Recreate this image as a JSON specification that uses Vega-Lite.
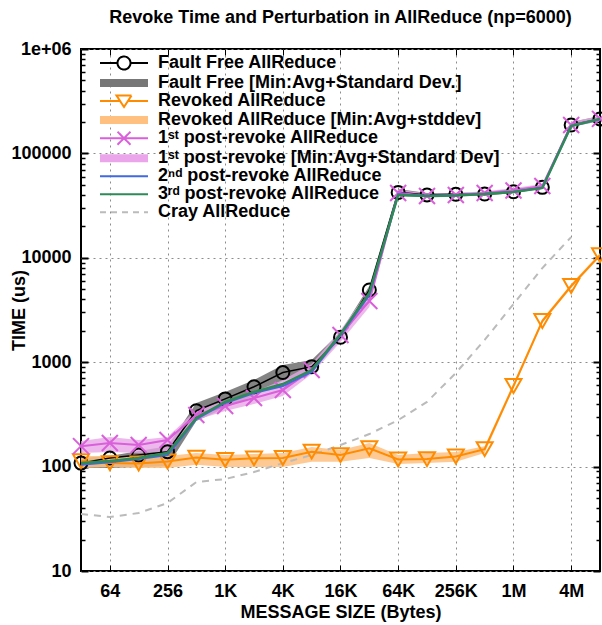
{
  "$schema": "https://vega.github.io/schema/vega-lite/v6.json",
  "width": 519,
  "height": 522,
  "autosize": "none",
  "padding": {"left": 81, "top": 49, "right": 2, "bottom": 54},
  "background": "white",
  "config": {"view": {"stroke": "#000000", "strokeWidth": 2}, "font": "Liberation Sans"},
  "title": {"text": "Revoke Time and Perturbation in AllReduce (np=6000)", "font": "Liberation Sans", "fontSize": 18, "fontWeight": "bold", "color": "#000000", "anchor": "middle", "offset": 13},
  "datasets": {
    "lines": [
      {"s": "ff", "x": 32, "y": 108}, {"s": "ff", "x": 64, "y": 121}, {"s": "ff", "x": 128, "y": 129}, {"s": "ff", "x": 256, "y": 139}, {"s": "ff", "x": 512, "y": 343}, {"s": "ff", "x": 1024, "y": 445}, {"s": "ff", "x": 2048, "y": 582}, {"s": "ff", "x": 4096, "y": 796}, {"s": "ff", "x": 8192, "y": 906}, {"s": "ff", "x": 16384, "y": 1734}, {"s": "ff", "x": 32768, "y": 4920}, {"s": "ff", "x": 65536, "y": 42300}, {"s": "ff", "x": 131072, "y": 40000}, {"s": "ff", "x": 262144, "y": 40600}, {"s": "ff", "x": 524288, "y": 40800}, {"s": "ff", "x": 1048576, "y": 42900}, {"s": "ff", "x": 2097152, "y": 47300}, {"s": "ff", "x": 4194304, "y": 187000}, {"s": "ff", "x": 8388608, "y": 214000},
      {"s": "rv", "x": 32, "y": 113}, {"s": "rv", "x": 64, "y": 108}, {"s": "rv", "x": 128, "y": 107}, {"s": "rv", "x": 256, "y": 112}, {"s": "rv", "x": 512, "y": 122}, {"s": "rv", "x": 1024, "y": 116}, {"s": "rv", "x": 2048, "y": 120}, {"s": "rv", "x": 4096, "y": 121}, {"s": "rv", "x": 8192, "y": 139}, {"s": "rv", "x": 16384, "y": 129}, {"s": "rv", "x": 32768, "y": 150}, {"s": "rv", "x": 65536, "y": 117}, {"s": "rv", "x": 131072, "y": 118}, {"s": "rv", "x": 262144, "y": 125}, {"s": "rv", "x": 524288, "y": 147}, {"s": "rv", "x": 1048576, "y": 592}, {"s": "rv", "x": 2097152, "y": 2480}, {"s": "rv", "x": 4194304, "y": 5370}, {"s": "rv", "x": 8388608, "y": 10600},
      {"s": "p1", "x": 32, "y": 157}, {"s": "p1", "x": 64, "y": 168}, {"s": "p1", "x": 128, "y": 161}, {"s": "p1", "x": 256, "y": 180}, {"s": "p1", "x": 512, "y": 312}, {"s": "p1", "x": 1024, "y": 380}, {"s": "p1", "x": 2048, "y": 454}, {"s": "p1", "x": 4096, "y": 542}, {"s": "p1", "x": 8192, "y": 841}, {"s": "p1", "x": 16384, "y": 1820}, {"s": "p1", "x": 32768, "y": 3850}, {"s": "p1", "x": 65536, "y": 41800}, {"s": "p1", "x": 131072, "y": 39100}, {"s": "p1", "x": 262144, "y": 40000}, {"s": "p1", "x": 524288, "y": 41800}, {"s": "p1", "x": 1048576, "y": 44100}, {"s": "p1", "x": 2097152, "y": 48800}, {"s": "p1", "x": 4194304, "y": 187000}, {"s": "p1", "x": 8388608, "y": 214000},
      {"s": "p2", "x": 32, "y": 104}, {"s": "p2", "x": 64, "y": 110}, {"s": "p2", "x": 128, "y": 118}, {"s": "p2", "x": 256, "y": 129}, {"s": "p2", "x": 512, "y": 285}, {"s": "p2", "x": 1024, "y": 407}, {"s": "p2", "x": 2048, "y": 507}, {"s": "p2", "x": 4096, "y": 591}, {"s": "p2", "x": 8192, "y": 806}, {"s": "p2", "x": 16384, "y": 1820}, {"s": "p2", "x": 32768, "y": 4400}, {"s": "p2", "x": 65536, "y": 40500}, {"s": "p2", "x": 131072, "y": 39300}, {"s": "p2", "x": 262144, "y": 39800}, {"s": "p2", "x": 524288, "y": 41000}, {"s": "p2", "x": 1048576, "y": 43000}, {"s": "p2", "x": 2097152, "y": 47000}, {"s": "p2", "x": 4194304, "y": 184000}, {"s": "p2", "x": 8388608, "y": 212000},
      {"s": "p3", "x": 32, "y": 108}, {"s": "p3", "x": 64, "y": 113}, {"s": "p3", "x": 128, "y": 121}, {"s": "p3", "x": 256, "y": 135}, {"s": "p3", "x": 512, "y": 292}, {"s": "p3", "x": 1024, "y": 416}, {"s": "p3", "x": 2048, "y": 519}, {"s": "p3", "x": 4096, "y": 618}, {"s": "p3", "x": 8192, "y": 841}, {"s": "p3", "x": 16384, "y": 1862}, {"s": "p3", "x": 32768, "y": 4600}, {"s": "p3", "x": 65536, "y": 40000}, {"s": "p3", "x": 131072, "y": 39100}, {"s": "p3", "x": 262144, "y": 39600}, {"s": "p3", "x": 524288, "y": 40800}, {"s": "p3", "x": 1048576, "y": 42700}, {"s": "p3", "x": 2097152, "y": 46700}, {"s": "p3", "x": 4194304, "y": 183000}, {"s": "p3", "x": 8388608, "y": 214000},
      {"s": "cray", "x": 32, "y": 35.2}, {"s": "cray", "x": 64, "y": 32.9}, {"s": "cray", "x": 128, "y": 35.9}, {"s": "cray", "x": 256, "y": 44.8}, {"s": "cray", "x": 512, "y": 71.1}, {"s": "cray", "x": 1024, "y": 76}, {"s": "cray", "x": 2048, "y": 88.7}, {"s": "cray", "x": 4096, "y": 108}, {"s": "cray", "x": 8192, "y": 129}, {"s": "cray", "x": 16384, "y": 161}, {"s": "cray", "x": 32768, "y": 205}, {"s": "cray", "x": 65536, "y": 279}, {"s": "cray", "x": 131072, "y": 416}, {"s": "cray", "x": 262144, "y": 789}, {"s": "cray", "x": 524288, "y": 1633}, {"s": "cray", "x": 1048576, "y": 3610}, {"s": "cray", "x": 2097152, "y": 7980}, {"s": "cray", "x": 4194304, "y": 15800}
    ],
    "bands": [
      {"s": "ffb", "x": 32, "lo": 97, "hi": 121}, {"s": "ffb", "x": 64, "lo": 97, "hi": 126}, {"s": "ffb", "x": 128, "lo": 99, "hi": 141}, {"s": "ffb", "x": 256, "lo": 101, "hi": 157}, {"s": "ffb", "x": 512, "lo": 273, "hi": 406}, {"s": "ffb", "x": 1024, "lo": 364, "hi": 519}, {"s": "ffb", "x": 2048, "lo": 474, "hi": 675}, {"s": "ffb", "x": 4096, "lo": 661, "hi": 940}, {"s": "ffb", "x": 8192, "lo": 805, "hi": 1050}, {"s": "ffb", "x": 16384, "lo": 1633, "hi": 1945}, {"s": "ffb", "x": 32768, "lo": 4220, "hi": 5370}, {"s": "ffb", "x": 65536, "lo": 39100, "hi": 45600}, {"s": "ffb", "x": 131072, "lo": 38200, "hi": 41800}, {"s": "ffb", "x": 262144, "lo": 39100, "hi": 41800}, {"s": "ffb", "x": 524288, "lo": 39100, "hi": 42700}, {"s": "ffb", "x": 1048576, "lo": 41800, "hi": 45600}, {"s": "ffb", "x": 2097152, "lo": 45600, "hi": 49800}, {"s": "ffb", "x": 4194304, "lo": 179000, "hi": 200000}, {"s": "ffb", "x": 8388608, "lo": 204000, "hi": 228000},
      {"s": "rvb", "x": 32, "lo": 97, "hi": 126}, {"s": "rvb", "x": 64, "lo": 99, "hi": 126}, {"s": "rvb", "x": 128, "lo": 97, "hi": 124}, {"s": "rvb", "x": 256, "lo": 97, "hi": 126}, {"s": "rvb", "x": 512, "lo": 104, "hi": 135}, {"s": "rvb", "x": 1024, "lo": 99, "hi": 129}, {"s": "rvb", "x": 2048, "lo": 99, "hi": 132}, {"s": "rvb", "x": 4096, "lo": 99, "hi": 135}, {"s": "rvb", "x": 8192, "lo": 111, "hi": 154}, {"s": "rvb", "x": 16384, "lo": 111, "hi": 144}, {"s": "rvb", "x": 32768, "lo": 121, "hi": 168}, {"s": "rvb", "x": 65536, "lo": 106, "hi": 129}, {"s": "rvb", "x": 131072, "lo": 108, "hi": 135}, {"s": "rvb", "x": 262144, "lo": 111, "hi": 138}, {"s": "rvb", "x": 524288, "lo": 135, "hi": 157}, {"s": "rvb", "x": 1048576, "lo": 566, "hi": 632}, {"s": "rvb", "x": 2097152, "lo": 2370, "hi": 2590}, {"s": "rvb", "x": 4194304, "lo": 5140, "hi": 5610}, {"s": "rvb", "x": 8388608, "lo": 10200, "hi": 11100},
      {"s": "p1b", "x": 32, "lo": 135, "hi": 176}, {"s": "p1b", "x": 64, "lo": 138, "hi": 192}, {"s": "p1b", "x": 128, "lo": 135, "hi": 180}, {"s": "p1b", "x": 256, "lo": 138, "hi": 192}, {"s": "p1b", "x": 512, "lo": 279, "hi": 348}, {"s": "p1b", "x": 1024, "lo": 341, "hi": 425}, {"s": "p1b", "x": 2048, "lo": 398, "hi": 519}, {"s": "p1b", "x": 4096, "lo": 474, "hi": 675}, {"s": "p1b", "x": 8192, "lo": 771, "hi": 961}, {"s": "p1b", "x": 16384, "lo": 1560, "hi": 2030}, {"s": "p1b", "x": 32768, "lo": 3380, "hi": 4920}, {"s": "p1b", "x": 65536, "lo": 40000, "hi": 45000}, {"s": "p1b", "x": 131072, "lo": 37800, "hi": 41000}, {"s": "p1b", "x": 262144, "lo": 38500, "hi": 41800}, {"s": "p1b", "x": 524288, "lo": 40000, "hi": 43500}, {"s": "p1b", "x": 1048576, "lo": 42700, "hi": 46500}, {"s": "p1b", "x": 2097152, "lo": 46500, "hi": 51000}, {"s": "p1b", "x": 4194304, "lo": 179000, "hi": 200000}, {"s": "p1b", "x": 8388608, "lo": 204000, "hi": 228000}
    ]
  },
  "resolve": {"axis": {"x": "independent", "y": "independent"}},
  "layer": [
    {
      "data": {"name": "bands"},
      "transform": [{"filter": "datum.s == 'ffb'"}],
      "mark": {"type": "area", "color": "#777777", "opacity": 0.9},
      "encoding": {
        "x": {"field": "x", "type": "quantitative", "scale": {"type": "log", "domain": [32, 8388608], "nice": false},
          "axis": {"orient": "bottom", "values": [64, 256, 1024, 4096, 16384, 65536, 262144, 1048576, 4194304],
            "labelExpr": "datum.value >= 1048576 ? (datum.value / 1048576) + 'M' : datum.value >= 1024 ? (datum.value / 1024) + 'K' : '' + datum.value",
            "title": "MESSAGE SIZE (Bytes)", "titleFont": "Liberation Sans", "titleFontSize": 18, "titleFontWeight": "bold", "titleColor": "#000000", "titlePadding": 3,
            "labelFont": "Liberation Sans", "labelFontSize": 18, "labelFontWeight": "bold", "labelColor": "#000000", "labelPadding": 17, "labelFlush": false, "labelOverlap": false,
            "tickSize": -6, "tickColor": "#000000", "tickWidth": 1, "domain": false,
            "grid": true, "gridColor": "#8c8c8c", "gridDash": [2, 4], "gridWidth": 1}},
        "y": {"field": "lo", "type": "quantitative", "scale": {"type": "log", "domain": [10, 1000000], "nice": false},
          "axis": {"orient": "left", "values": [10, 100, 1000, 10000, 100000, 1000000],
            "labelExpr": "datum.value == 1000000 ? '1e+06' : '' + datum.value",
            "title": "TIME (us)", "titleFont": "Liberation Sans", "titleFontSize": 18, "titleFontWeight": "bold", "titleColor": "#000000", "titleX": -53, "titleY": 261, "titleAngle": -90, "titleAlign": "center", "titleBaseline": "bottom",
            "labelFont": "Liberation Sans", "labelFontSize": 18, "labelFontWeight": "bold", "labelColor": "#000000", "labelPadding": 17, "labelFlush": false, "labelOverlap": false,
            "tickSize": -7, "tickColor": "#000000", "tickWidth": 2, "domain": false,
            "grid": true, "gridColor": "#8c8c8c", "gridDash": [2, 4], "gridWidth": 1}},
        "y2": {"field": "hi"}
      }
    },
    {
      "data": {"name": "bands"},
      "transform": [{"filter": "datum.s == 'rvb'"}],
      "mark": {"type": "area", "color": "#ffc080", "opacity": 0.85},
      "encoding": {
        "x": {"field": "x", "type": "quantitative", "scale": {"type": "log", "domain": [32, 8388608], "nice": false},
          "axis": {"orient": "top", "values": [64, 256, 1024, 4096, 16384, 65536, 262144, 1048576, 4194304], "labels": false, "title": null, "domain": false, "grid": false, "tickSize": -6, "tickColor": "#000000", "tickWidth": 1}},
        "y": {"field": "lo", "type": "quantitative", "scale": {"type": "log", "domain": [10, 1000000], "nice": false},
          "axis": {"orient": "right", "values": [10, 100, 1000, 10000, 100000, 1000000], "labels": false, "title": null, "domain": false, "grid": false, "tickSize": -7, "tickColor": "#000000", "tickWidth": 2}},
        "y2": {"field": "hi"}
      }
    },
    {
      "data": {"name": "bands"},
      "transform": [{"filter": "datum.s == 'p1b'"}],
      "mark": {"type": "area", "color": "#e8a8e8", "opacity": 0.8},
      "encoding": {
        "x": {"field": "x", "type": "quantitative", "scale": {"type": "log", "domain": [32, 8388608], "nice": false}, "axis": null},
        "y": {"field": "lo", "type": "quantitative", "scale": {"type": "log", "domain": [10, 1000000], "nice": false},
          "axis": {"orient": "left", "values": [20, 30, 40, 50, 60, 70, 80, 90, 200, 300, 400, 500, 600, 700, 800, 900, 2000, 3000, 4000, 5000, 6000, 7000, 8000, 9000, 20000, 30000, 40000, 50000, 60000, 70000, 80000, 90000, 200000, 300000, 400000, 500000, 600000, 700000, 800000, 900000], "labels": false, "title": null, "domain": false, "grid": false, "tickSize": -4, "tickColor": "#000000", "tickWidth": 1.5}},
        "y2": {"field": "hi"}
      }
    },
    {
      "data": {"name": "lines"},
      "transform": [{"filter": "datum.s == 'cray'"}],
      "mark": {"type": "line", "color": "#bbbbbb", "strokeWidth": 2, "strokeDash": [7, 6]},
      "encoding": {
        "x": {"field": "x", "type": "quantitative", "scale": {"type": "log", "domain": [32, 8388608], "nice": false}, "axis": null},
        "y": {"field": "y", "type": "quantitative", "scale": {"type": "log", "domain": [10, 1000000], "nice": false},
          "axis": {"orient": "right", "values": [20, 30, 40, 50, 60, 70, 80, 90, 200, 300, 400, 500, 600, 700, 800, 900, 2000, 3000, 4000, 5000, 6000, 7000, 8000, 9000, 20000, 30000, 40000, 50000, 60000, 70000, 80000, 90000, 200000, 300000, 400000, 500000, 600000, 700000, 800000, 900000], "labels": false, "title": null, "domain": false, "grid": false, "tickSize": -4, "tickColor": "#000000", "tickWidth": 1.5}}
      }
    },
    {
      "data": {"name": "lines"},
      "transform": [{"filter": "datum.s == 'ff'"}],
      "mark": {"type": "line", "color": "#000000", "strokeWidth": 1.5},
      "encoding": {
        "x": {"field": "x", "type": "quantitative", "scale": {"type": "log", "domain": [32, 8388608], "nice": false}, "axis": null},
        "y": {"field": "y", "type": "quantitative", "scale": {"type": "log", "domain": [10, 1000000], "nice": false}, "axis": null}
      }
    },
    {
      "data": {"name": "lines"},
      "transform": [{"filter": "datum.s == 'ff'"}],
      "mark": {"type": "point", "color": "#000000", "shape": "circle", "size": 169, "filled": false, "strokeWidth": 2, "opacity": 1},
      "encoding": {
        "x": {"field": "x", "type": "quantitative", "scale": {"type": "log", "domain": [32, 8388608], "nice": false}, "axis": null},
        "y": {"field": "y", "type": "quantitative", "scale": {"type": "log", "domain": [10, 1000000], "nice": false}, "axis": null}
      }
    },
    {
      "data": {"name": "lines"},
      "transform": [{"filter": "datum.s == 'rv'"}],
      "mark": {"type": "line", "color": "#ff8c00", "strokeWidth": 2},
      "encoding": {
        "x": {"field": "x", "type": "quantitative", "scale": {"type": "log", "domain": [32, 8388608], "nice": false}, "axis": null},
        "y": {"field": "y", "type": "quantitative", "scale": {"type": "log", "domain": [10, 1000000], "nice": false}, "axis": null}
      }
    },
    {
      "data": {"name": "lines"},
      "transform": [{"filter": "datum.s == 'rv'"}],
      "mark": {"type": "point", "color": "#ff8c00", "shape": "triangle-down", "size": 256, "filled": false, "strokeWidth": 2, "opacity": 1},
      "encoding": {
        "x": {"field": "x", "type": "quantitative", "scale": {"type": "log", "domain": [32, 8388608], "nice": false}, "axis": null},
        "y": {"field": "y", "type": "quantitative", "scale": {"type": "log", "domain": [10, 1000000], "nice": false}, "axis": null}
      }
    },
    {
      "data": {"name": "lines"},
      "transform": [{"filter": "datum.s == 'p1'"}],
      "mark": {"type": "line", "color": "#da5fda", "strokeWidth": 2},
      "encoding": {
        "x": {"field": "x", "type": "quantitative", "scale": {"type": "log", "domain": [32, 8388608], "nice": false}, "axis": null},
        "y": {"field": "y", "type": "quantitative", "scale": {"type": "log", "domain": [10, 1000000], "nice": false}, "axis": null}
      }
    },
    {
      "data": {"name": "lines"},
      "transform": [{"filter": "datum.s == 'p1'"}],
      "mark": {"type": "point", "color": "#da5fda", "shape": "M-1,-1L1,1M-1,1L1,-1", "size": 256, "filled": false, "strokeWidth": 2, "opacity": 1},
      "encoding": {
        "x": {"field": "x", "type": "quantitative", "scale": {"type": "log", "domain": [32, 8388608], "nice": false}, "axis": null},
        "y": {"field": "y", "type": "quantitative", "scale": {"type": "log", "domain": [10, 1000000], "nice": false}, "axis": null}
      }
    },
    {
      "data": {"name": "lines"},
      "transform": [{"filter": "datum.s == 'p2'"}],
      "mark": {"type": "line", "color": "#4169e1", "strokeWidth": 2},
      "encoding": {
        "x": {"field": "x", "type": "quantitative", "scale": {"type": "log", "domain": [32, 8388608], "nice": false}, "axis": null},
        "y": {"field": "y", "type": "quantitative", "scale": {"type": "log", "domain": [10, 1000000], "nice": false}, "axis": null}
      }
    },
    {
      "data": {"name": "lines"},
      "transform": [{"filter": "datum.s == 'p3'"}],
      "mark": {"type": "line", "color": "#2e8b57", "strokeWidth": 2.5},
      "encoding": {
        "x": {"field": "x", "type": "quantitative", "scale": {"type": "log", "domain": [32, 8388608], "nice": false}, "axis": null},
        "y": {"field": "y", "type": "quantitative", "scale": {"type": "log", "domain": [10, 1000000], "nice": false}, "axis": null}
      }
    },
    {
      "data": {"name": "lines"},
      "transform": [{"filter": "false"}],
      "mark": {"type": "point", "filled": false, "opacity": 1},
      "encoding": {
        "x": {"field": "x", "type": "quantitative", "scale": {"type": "log", "domain": [32, 8388608], "nice": false}, "axis": null},
        "y": {"field": "y", "type": "quantitative", "scale": {"type": "log", "domain": [10, 1000000], "nice": false}, "axis": null},
        "color": {"field": "s", "type": "nominal",
          "scale": {"domain": ["ff", "ffb", "rv", "rvb", "p1", "p1b", "p2", "p3", "cray"], "range": ["#000000", "#777777", "#ff8c00", "#ffc080", "#da5fda", "#eba6eb", "#4169e1", "#2e8b57", "#bbbbbb"]},
          "legend": {"orient": "none", "legendX": 34, "legendY": 5, "title": null, "padding": 0, "symbolSize": 4, "symbolOpacity": 1, "symbolFillColor": "transparent", "symbolStrokeWidth": 2, "labelOffset": 25, "rowPadding": -1.8,
            "labelFont": "Liberation Sans", "labelFontSize": 18, "labelFontWeight": "bold", "labelColor": "#000000", "labelLimit": 600,
            "labelExpr": "['Fault Free AllReduce', 'Fault Free [Min:Avg+Standard Dev.]', 'Revoked AllReduce', 'Revoked AllReduce [Min:Avg+stddev]', '1ˢᵗ post-revoke AllReduce', '1ˢᵗ post-revoke [Min:Avg+Standard Dev]', '2ⁿᵈ post-revoke AllReduce', '3ʳᵈ post-revoke AllReduce', 'Cray AllReduce'][datum.index]"}},
        "shape": {"field": "s", "type": "nominal",
          "scale": {"domain": ["ff", "ffb", "rv", "rvb", "p1", "p1b", "p2", "p3", "cray"], "range": ["M-24,0H-6.5A6.5,6.5 0 1 1 6.5,0A6.5,6.5 0 1 1 -6.5,0M6.5,0H24", "M-24,-3H24M-24,-1H24M-24,1H24M-24,3H24", "M-24,0H-3.6M3.6,0H24M-7.5,-5.5H7.5L0,6Z", "M-24,-3H24M-24,-1H24M-24,1H24M-24,3H24", "M-24,0H24M-6.5,-6.5L6.5,6.5M-6.5,6.5L6.5,-6.5", "M-24,-3H24M-24,-1H24M-24,1H24M-24,3H24", "M-24,0H24", "M-24,0H24", "M-24,0H24"]},
          "legend": {"orient": "none", "legendX": 34, "legendY": 5, "title": null, "padding": 0, "symbolSize": 4, "symbolOpacity": 1, "symbolFillColor": "transparent", "symbolStrokeWidth": 2, "labelOffset": 25, "rowPadding": -1.8,
            "labelFont": "Liberation Sans", "labelFontSize": 18, "labelFontWeight": "bold", "labelColor": "#000000", "labelLimit": 600,
            "labelExpr": "['Fault Free AllReduce', 'Fault Free [Min:Avg+Standard Dev.]', 'Revoked AllReduce', 'Revoked AllReduce [Min:Avg+stddev]', '1ˢᵗ post-revoke AllReduce', '1ˢᵗ post-revoke [Min:Avg+Standard Dev]', '2ⁿᵈ post-revoke AllReduce', '3ʳᵈ post-revoke AllReduce', 'Cray AllReduce'][datum.index]"}},
        "strokeDash": {"field": "s", "type": "nominal",
          "scale": {"domain": ["ff", "ffb", "rv", "rvb", "p1", "p1b", "p2", "p3", "cray"], "range": [[1, 0], [1, 0], [1, 0], [1, 0], [1, 0], [1, 0], [1, 0], [1, 0], [6, 5]]},
          "legend": {"orient": "none", "legendX": 34, "legendY": 5, "title": null, "padding": 0, "symbolSize": 4, "symbolOpacity": 1, "symbolFillColor": "transparent", "symbolStrokeWidth": 2, "labelOffset": 25, "rowPadding": -1.8,
            "labelFont": "Liberation Sans", "labelFontSize": 18, "labelFontWeight": "bold", "labelColor": "#000000", "labelLimit": 600,
            "labelExpr": "['Fault Free AllReduce', 'Fault Free [Min:Avg+Standard Dev.]', 'Revoked AllReduce', 'Revoked AllReduce [Min:Avg+stddev]', '1ˢᵗ post-revoke AllReduce', '1ˢᵗ post-revoke [Min:Avg+Standard Dev]', '2ⁿᵈ post-revoke AllReduce', '3ʳᵈ post-revoke AllReduce', 'Cray AllReduce'][datum.index]"}}
      }
    }
  ]
}
